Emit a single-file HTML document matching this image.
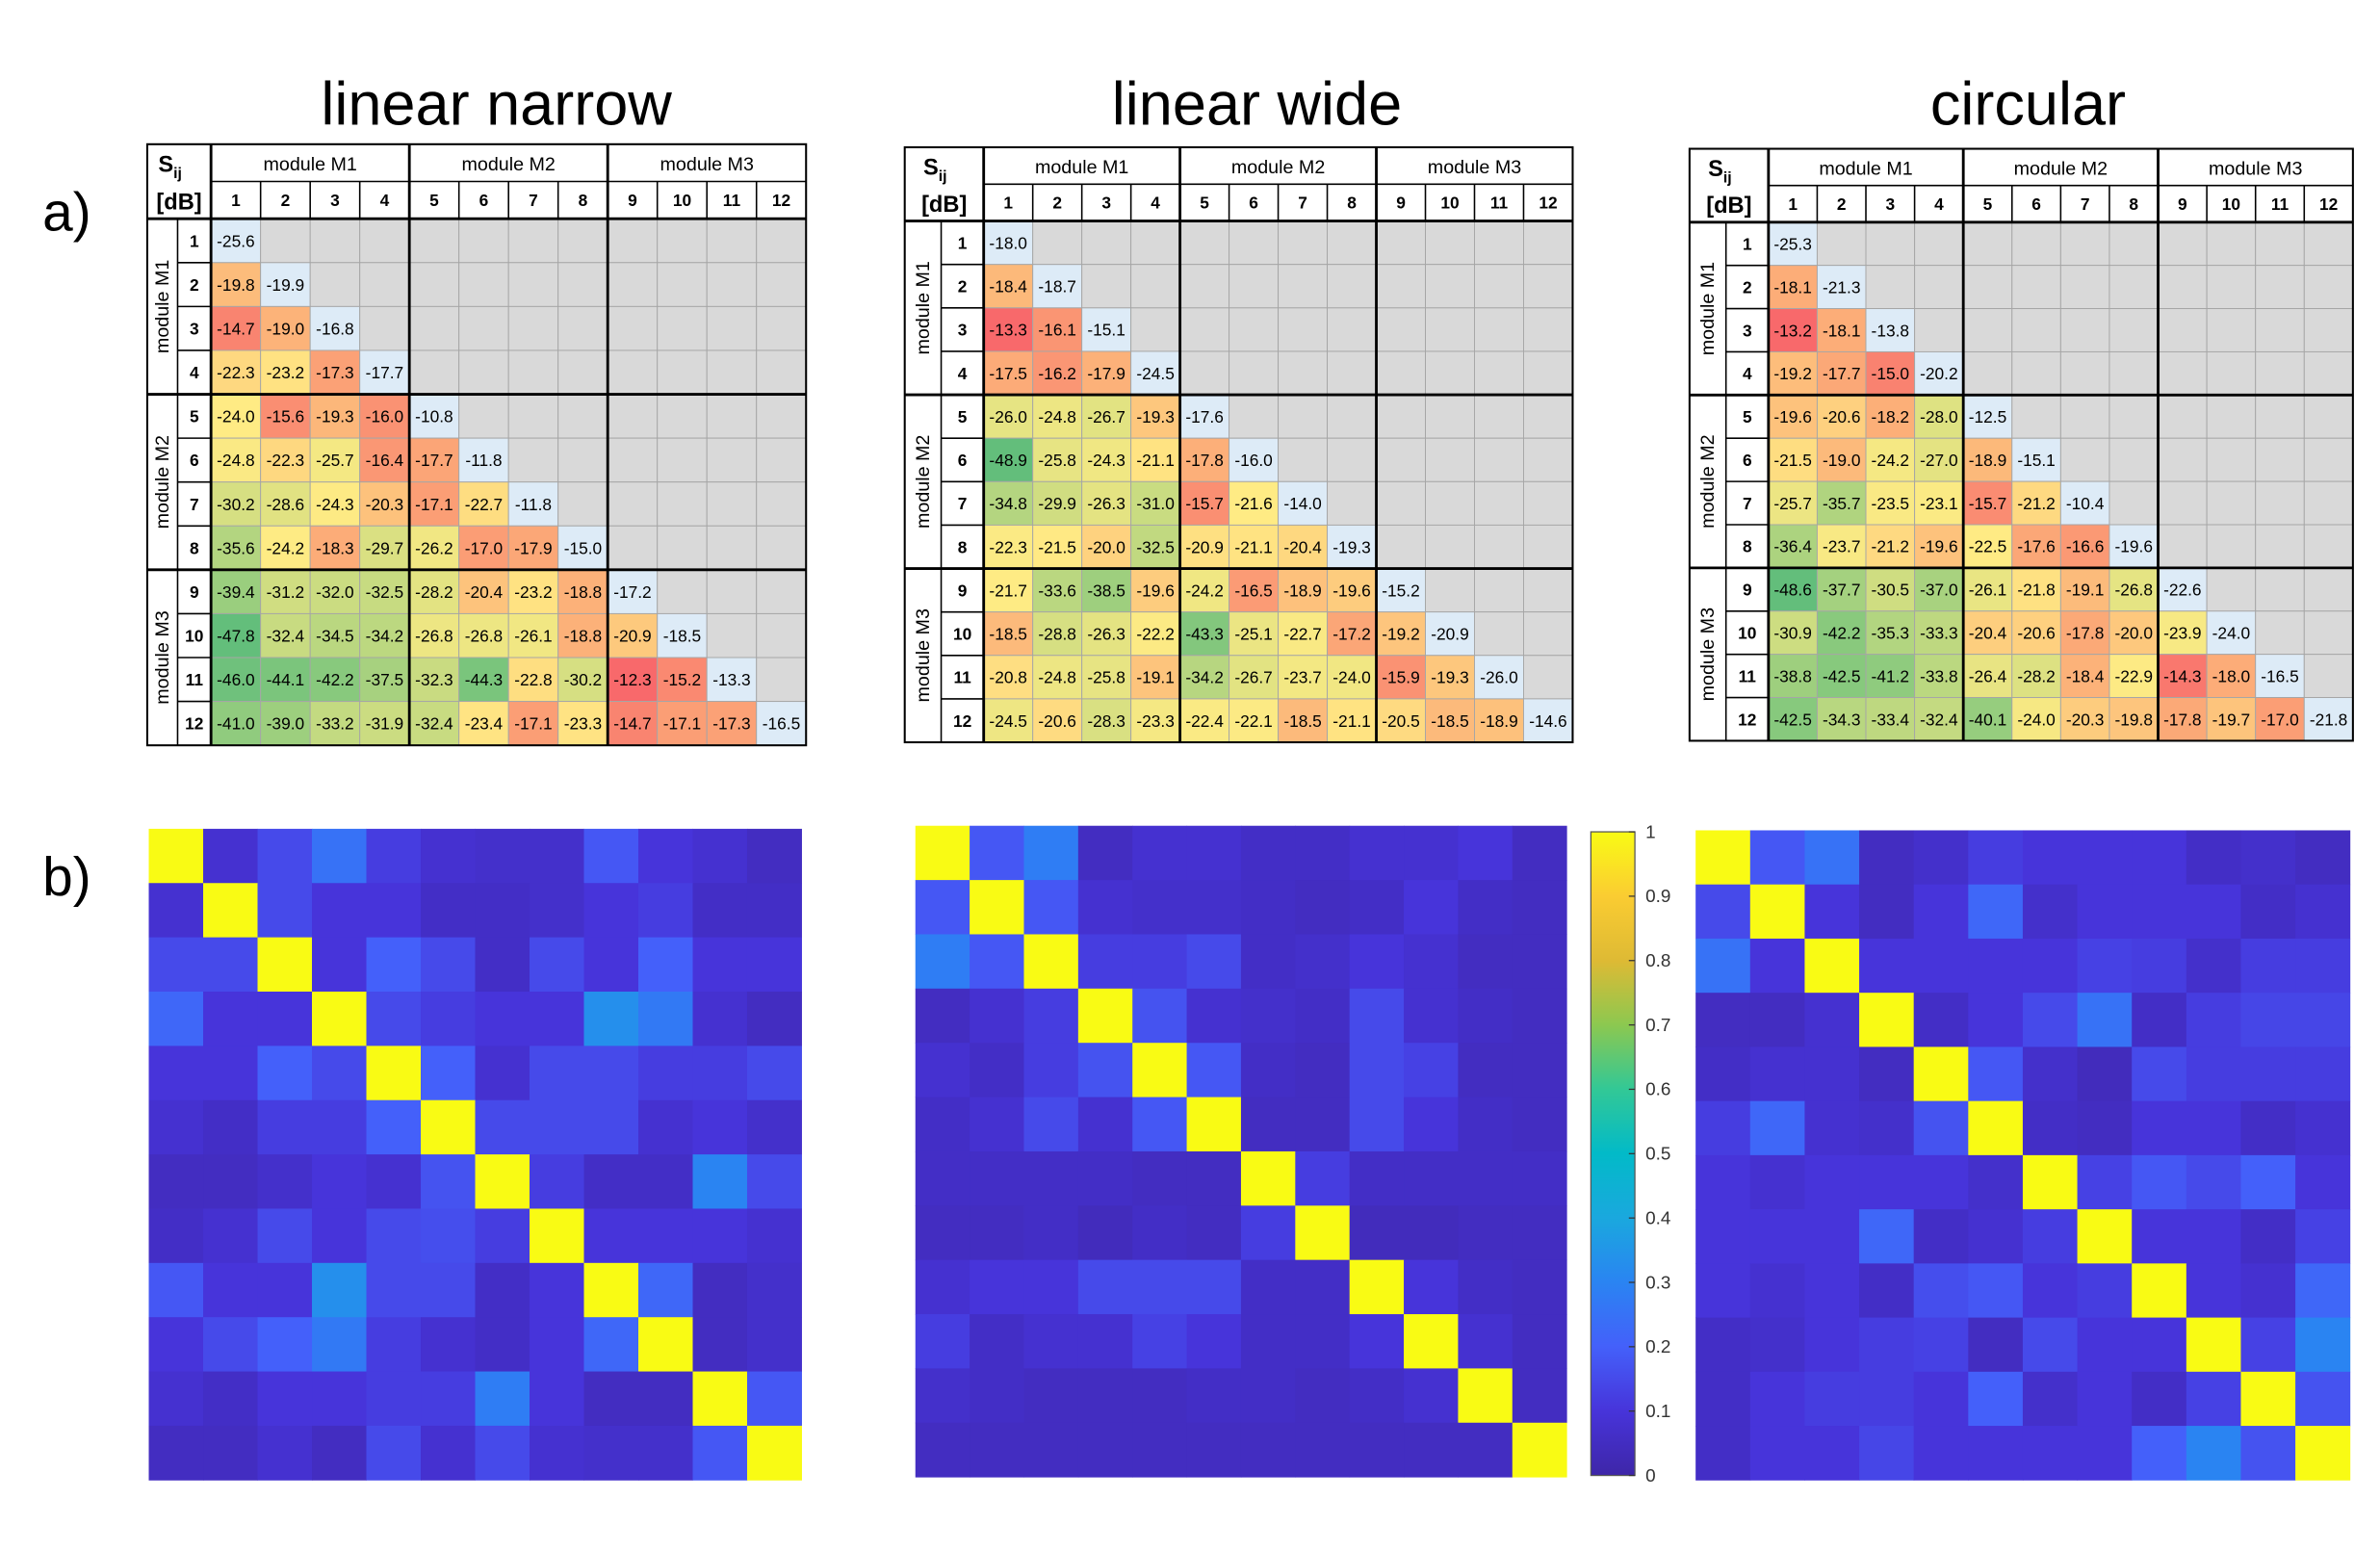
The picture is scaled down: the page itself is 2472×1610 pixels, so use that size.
<!DOCTYPE html>
<html><head><meta charset="utf-8"><style>
html,body{margin:0;padding:0;background:#fff;}
svg{display:block;font-family:"Liberation Sans",sans-serif;}
</style></head><body>
<svg id="root" width="2472" height="1610" viewBox="0 0 1560 1016" xmlns="http://www.w3.org/2000/svg">
<rect width="1560" height="1016" fill="#fff"/>
<g transform="scale(0.995)">
<text x="327" y="82" font-size="40" text-anchor="middle">linear narrow</text>
<text x="828" y="82" font-size="40" text-anchor="middle">linear wide</text>
<text x="1336" y="82" font-size="40" text-anchor="middle">circular</text>
<text x="28" y="152" font-size="36">a)</text>
<text x="28" y="590" font-size="36">b)</text>
<g id="tables"></g>
<g id="heatmaps"></g>
<g id="colorbar"></g>
</g>
</svg>
<script>
const NS="http://www.w3.org/2000/svg";
const tableNarrow=[[-25.6],[-19.8,-19.9],[-14.7,-19.0,-16.8],[-22.3,-23.2,-17.3,-17.7],[-24.0,-15.6,-19.3,-16.0,-10.8],[-24.8,-22.3,-25.7,-16.4,-17.7,-11.8],[-30.2,-28.6,-24.3,-20.3,-17.1,-22.7,-11.8],[-35.6,-24.2,-18.3,-29.7,-26.2,-17.0,-17.9,-15.0],[-39.4,-31.2,-32.0,-32.5,-28.2,-20.4,-23.2,-18.8,-17.2],[-47.8,-32.4,-34.5,-34.2,-26.8,-26.8,-26.1,-18.8,-20.9,-18.5],[-46.0,-44.1,-42.2,-37.5,-32.3,-44.3,-22.8,-30.2,-12.3,-15.2,-13.3],[-41.0,-39.0,-33.2,-31.9,-32.4,-23.4,-17.1,-23.3,-14.7,-17.1,-17.3,-16.5]];
const tableWide=[[-18.0],[-18.4,-18.7],[-13.3,-16.1,-15.1],[-17.5,-16.2,-17.9,-24.5],[-26.0,-24.8,-26.7,-19.3,-17.6],[-48.9,-25.8,-24.3,-21.1,-17.8,-16.0],[-34.8,-29.9,-26.3,-31.0,-15.7,-21.6,-14.0],[-22.3,-21.5,-20.0,-32.5,-20.9,-21.1,-20.4,-19.3],[-21.7,-33.6,-38.5,-19.6,-24.2,-16.5,-18.9,-19.6,-15.2],[-18.5,-28.8,-26.3,-22.2,-43.3,-25.1,-22.7,-17.2,-19.2,-20.9],[-20.8,-24.8,-25.8,-19.1,-34.2,-26.7,-23.7,-24.0,-15.9,-19.3,-26.0],[-24.5,-20.6,-28.3,-23.3,-22.4,-22.1,-18.5,-21.1,-20.5,-18.5,-18.9,-14.6]];
const tableCircular=[[-25.3],[-18.1,-21.3],[-13.2,-18.1,-13.8],[-19.2,-17.7,-15.0,-20.2],[-19.6,-20.6,-18.2,-28.0,-12.5],[-21.5,-19.0,-24.2,-27.0,-18.9,-15.1],[-25.7,-35.7,-23.5,-23.1,-15.7,-21.2,-10.4],[-36.4,-23.7,-21.2,-19.6,-22.5,-17.6,-16.6,-19.6],[-48.6,-37.7,-30.5,-37.0,-26.1,-21.8,-19.1,-26.8,-22.6],[-30.9,-42.2,-35.3,-33.3,-20.4,-20.6,-17.8,-20.0,-23.9,-24.0],[-38.8,-42.5,-41.2,-33.8,-26.4,-28.2,-18.4,-22.9,-14.3,-18.0,-16.5],[-42.5,-34.3,-33.4,-32.4,-40.1,-24.0,-20.3,-19.8,-17.8,-19.7,-17.0,-21.8]];
const portLabels=["1","2","3","4","5","6","7","8","9","10","11","12"];
const moduleLabels=["module M1","module M2","module M3"];
const heatNarrow=[
[1,.08,.15,.25,.12,.08,.07,.07,.18,.1,.08,.05],
[.08,1,.15,.1,.1,.06,.06,.07,.1,.12,.06,.06],
[.15,.15,1,.1,.2,.15,.06,.15,.1,.2,.1,.1],
[.22,.1,.1,1,.15,.12,.1,.1,.33,.27,.08,.05],
[.1,.1,.2,.15,1,.2,.08,.15,.15,.12,.12,.15],
[.08,.06,.12,.12,.2,1,.15,.15,.15,.08,.1,.07],
[.05,.05,.07,.1,.08,.17,1,.12,.06,.06,.3,.15],
[.06,.08,.15,.1,.15,.16,.12,1,.1,.1,.1,.08],
[.18,.1,.1,.33,.15,.15,.06,.1,1,.22,.05,.07],
[.1,.15,.2,.27,.12,.08,.06,.1,.22,1,.05,.07],
[.08,.06,.1,.1,.12,.12,.28,.1,.05,.05,1,.18],
[.05,.05,.08,.05,.15,.08,.15,.08,.07,.07,.18,1]];
const heatWide=[
[1,.18,.28,.05,.08,.08,.06,.06,.08,.08,.1,.05],
[.18,1,.18,.08,.07,.07,.06,.05,.06,.1,.06,.05],
[.28,.18,1,.12,.12,.15,.06,.07,.1,.08,.05,.05],
[.05,.08,.12,1,.17,.08,.07,.06,.15,.08,.06,.05],
[.08,.06,.12,.17,1,.18,.06,.05,.15,.13,.05,.05],
[.06,.08,.15,.08,.18,1,.05,.05,.15,.1,.06,.05],
[.06,.06,.06,.06,.05,.05,1,.12,.06,.06,.06,.06],
[.05,.05,.06,.04,.06,.05,.12,1,.04,.04,.05,.05],
[.08,.1,.1,.15,.15,.15,.06,.06,1,.1,.06,.05],
[.12,.06,.08,.08,.13,.1,.06,.06,.1,1,.08,.05],
[.07,.06,.05,.05,.05,.06,.06,.05,.06,.08,1,.05],
[.05,.05,.05,.05,.05,.05,.05,.05,.05,.05,.05,1]];
const heatCircular=[
[1,.18,.25,.05,.07,.12,.1,.1,.1,.06,.07,.05],
[.15,1,.1,.05,.1,.22,.07,.1,.1,.1,.06,.08],
[.25,.1,1,.1,.1,.1,.1,.13,.12,.07,.12,.12],
[.05,.05,.08,1,.06,.1,.15,.25,.06,.12,.14,.14],
[.06,.08,.08,.05,1,.18,.07,.04,.15,.12,.12,.12],
[.12,.22,.08,.07,.17,1,.06,.05,.1,.1,.06,.08],
[.1,.08,.1,.1,.1,.07,1,.13,.18,.15,.2,.1],
[.1,.1,.1,.22,.06,.08,.12,1,.1,.1,.06,.13],
[.1,.08,.1,.06,.16,.18,.1,.12,1,.1,.08,.22],
[.06,.07,.1,.12,.13,.05,.15,.1,.1,1,.13,.3],
[.06,.1,.12,.12,.1,.2,.07,.1,.06,.13,1,.17],
[.06,.1,.1,.14,.1,.1,.1,.1,.2,.3,.17,1]];
const cbTicks=[0,0.1,0.2,0.3,0.4,0.5,0.6,0.7,0.8,0.9,1];

function mk(tag,attrs,parent,txt){const e=document.createElementNS(NS,tag);for(const k in attrs)e.setAttribute(k,attrs[k]);if(txt!==undefined)e.textContent=txt;parent.appendChild(e);return e;}
const parStops=[[0,[62,38,168]],[.1,[71,52,218]],[.2,[68,96,250]],[.3,[42,132,242]],[.4,[26,168,222]],[.5,[2,186,200]],[.6,[50,200,150]],[.7,[140,200,80]],[.8,[222,186,52]],[.9,[250,204,50]],[1,[249,251,20]]];
function interp(stops,t){t=Math.max(0,Math.min(1,t));for(let i=1;i<stops.length;i++){if(t<=stops[i][0]){const a=stops[i-1],b=stops[i];const f=(t-a[0])/(b[0]-a[0]);return 'rgb('+a[1].map((v,k)=>Math.round(v+(b[1][k]-v)*f)).join(',')+')';}}const l=stops[stops.length-1][1];return 'rgb('+l.join(',')+')';}
function tableColor(v,mn,md,mx){if(v<=md){const f=(v-mn)/(md-mn);return interp([[0,[99,190,123]],[1,[255,235,132]]],f);}const f=(v-md)/(mx-md);return interp([[0,[255,235,132]],[1,[248,105,107]]],f);}

function drawTable(data,x0,y0,W,H,lw1,lw2,name){
  const g=mk('g',{},document.getElementById('tables'));
  const hh=H*0.062, rh=(H-2*hh)/12, cw=(W-lw1-lw2)/12, cx0=x0+lw1+lw2, ry0=y0+2*hh;
  const off=[];data.forEach((r,i)=>r.forEach((v,j)=>{if(j<i)off.push(v);}));
  const s=off.slice().sort((a,b)=>a-b);const mn=s[0],mx=s[s.length-1],md=s[Math.floor(s.length/2)];
  for(let i=0;i<12;i++)for(let j=0;j<12;j++){
    const x=cx0+j*cw,y=ry0+i*rh;let fill='#d9d9d9';
    if(j==i)fill='#ddebf7';else if(j<i)fill=tableColor(data[i][j],mn,md,mx);
    const c=mk('rect',{x:x,y:y,width:cw,height:rh,fill:fill,stroke:'#a6a6a6','stroke-width':0.6},g);
    
    
    if(j<=i){const t=mk('text',{x:x+cw/2,y:y+rh/2+4,'font-size':11,'text-anchor':'middle'},g,data[i][j].toFixed(1));
      
      }
  }
  for(let j=0;j<12;j++){const t=mk('text',{x:cx0+j*cw+cw/2,y:y0+hh+hh/2+4,'font-size':11,'font-weight':'bold','text-anchor':'middle'},g,portLabels[j]);
    
    
    const r=mk('text',{x:x0+lw1+lw2/2,y:ry0+j*rh+rh/2+4,'font-size':11,'font-weight':'bold','text-anchor':'middle'},g,portLabels[j]);
    
    }
  for(let m=0;m<3;m++){
    const t=mk('text',{x:cx0+(4*m+2)*cw,y:y0+hh/2+5,'font-size':12.5,'text-anchor':'middle'},g,moduleLabels[m]);
    
    
    const yc=ry0+(4*m+2)*rh,xc=x0+lw1/2+4;
    const r=mk('text',{x:xc,y:yc,'font-size':12.5,'text-anchor':'middle',transform:'rotate(-90 '+xc+' '+yc+')'},g,moduleLabels[m]);
    
    
  }
  const sl=mk('text',{x:x0+(lw1+lw2)/2-6,y:y0+hh/2+6,'font-size':15,'font-weight':'bold','text-anchor':'middle'},g);
  
  sl.innerHTML='S<tspan font-size="10" dy="4">ij</tspan>';
  const db=mk('text',{x:x0+(lw1+lw2)/2,y:y0+hh*1.5+6,'font-size':15,'font-weight':'bold','text-anchor':'middle'},g,'[dB]');
  
  const L=(a,b,c,d,w)=>mk('line',{x1:a,y1:b,x2:c,y2:d,stroke:'#000','stroke-width':w},g);
  L(cx0,y0+hh,x0+W,y0+hh,1);
  for(let j=1;j<12;j++)L(cx0+j*cw,y0+hh,cx0+j*cw,ry0,1);
  for(let j=1;j<12;j++)L(x0+lw1,ry0+j*rh,x0+lw1+lw2,ry0+j*rh,1);
  L(x0+lw1,ry0,x0+lw1,y0+H,1);
  [4,8].forEach(k=>{L(cx0+k*cw,y0,cx0+k*cw,y0+H,1.8);L(x0,ry0+k*rh,x0+W,ry0+k*rh,1.8);});
  L(cx0,y0,cx0,y0+H,1.8);L(x0,ry0,x0+W,ry0,1.8);
  mk('rect',{x:x0,y:y0,width:W,height:H,fill:'none',stroke:'#000','stroke-width':1.3},g);
}
drawTable(tableNarrow,97,95,434,396,20,22,'table-linear-narrow');
drawTable(tableWide,596,97,440,392,24,28,'table-linear-wide');
drawTable(tableCircular,1113,98,437,390,24,28,'table-circular');

function drawHeat(data,x0,y0,W,H,name){
  const g=mk('g',{},document.getElementById('heatmaps'));
  const cw=W/12,ch=H/12;
  data.forEach((r,i)=>r.forEach((v,j)=>{
    const c=mk('rect',{x:x0+j*cw,y:y0+i*ch,width:cw+0.3,height:ch+0.3,fill:interp(parStops,v)},g);
    
    
  }));
}
drawHeat(heatNarrow,98,546,430,429,'heatmap-linear-narrow');
drawHeat(heatWide,603,544,429,429,'heatmap-linear-wide');
drawHeat(heatCircular,1117,547,431,428,'heatmap-circular');

(function(){
  const g=document.getElementById('colorbar');
  
  const x=1048,y=548,w=29,h=424;
  const defs=mk('defs',{},g);const lg=mk('linearGradient',{id:'cbg',x1:0,y1:1,x2:0,y2:0},defs);
  parStops.forEach(s=>mk('stop',{offset:s[0],'stop-color':interp(parStops,s[0])},lg));
  mk('rect',{x:x,y:y,width:w,height:h,fill:'url(#cbg)',stroke:'#555','stroke-width':0.8},g);
  cbTicks.forEach(t=>{const yy=y+h-t*h;
    mk('line',{x1:x+w-4,y1:yy,x2:x+w,y2:yy,stroke:'#333','stroke-width':0.8},g);
    const tx=mk('text',{x:x+w+7,y:yy+4,'font-size':12,fill:'#333'},g,String(t));
    
    });
})();
</script>
</body></html>
